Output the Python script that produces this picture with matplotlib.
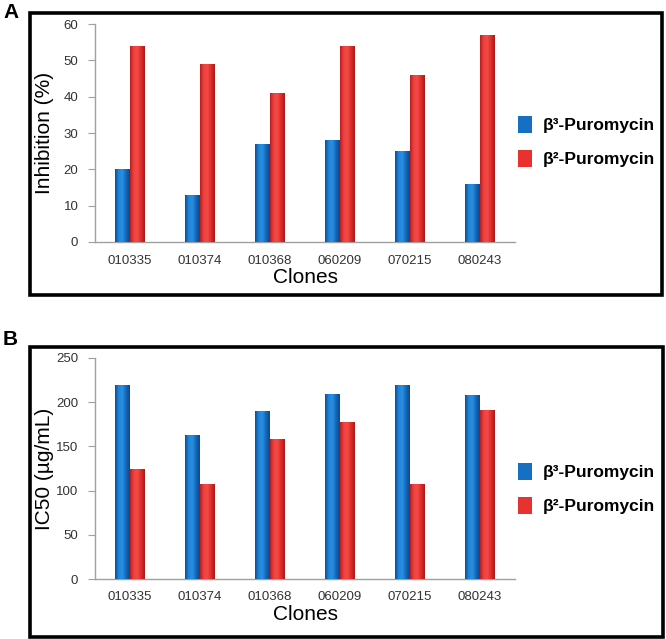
import matplotlib
matplotlib.use('Agg')
import matplotlib.pyplot as plt
from matplotlib.patches import Rectangle
from matplotlib.colors import LinearSegmentedColormap
import numpy as np

plt.rcParams['font.family'] = ['Liberation Sans', 'DejaVu Sans']

clones = ['010335', '010374', '010368', '060209', '070215', '080243']
inhib_b3 = [20, 13, 27, 28, 25, 16]
inhib_b2 = [54, 49, 41, 54, 46, 57]
ic50_b3 = [219, 163, 190, 209, 219, 208]
ic50_b2 = [125, 108, 158, 178, 107, 191]
series_names = ['β³-Puromycin', 'β²-Puromycin']

BLUE = '#1570c4'; RED = '#e8322f'; AXC = '#a0a0a0'; TXT = '#333333'
blue_cm = LinearSegmentedColormap.from_list('b', ['#0b4f94', '#1f86dc', '#2a8fe0', '#1466b8', '#0a4a8c'])
red_cm = LinearSegmentedColormap.from_list('r', ['#b81e1e', '#f04240', '#f24a47', '#dc2c2a', '#a81a1a'])

fig = plt.figure(figsize=(6.66, 6.39), dpi=100)
fig.patch.set_facecolor('white')

# outer frames and panel letters
for (x0, y0, w, h) in [(30/666, 1-295/639, 632/666, 282/639), (30/666, 1-637/639, 633/666, 290/639)]:
    fig.patches.append(Rectangle((x0, y0), w, h, transform=fig.transFigure, fill=False, ec='black', lw=2.6))
fig.text(3/666, 1-3/639, 'A', fontsize=15, fontweight='bold', va='top', ha='left')
fig.text(3/666, 1-330/639, 'B', fontsize=15, fontweight='bold', va='top', ha='left')


def shade(ax, bars, cm):
    grad = np.linspace(0, 1, 64).reshape(1, -1)
    for b in bars:
        x, y = b.get_x(), b.get_y()
        w, h = b.get_width(), b.get_height()
        im = ax.imshow(grad, cmap=cm, aspect='auto', extent=(x, x + w, y, y + h), zorder=3)
        im.set_clip_path(b)
        b.set_facecolor('none')


def panel(rect, b3, b2, ymax, step, ylabel, leg_y):
    ax = fig.add_axes(rect)
    x = np.arange(len(clones))
    w = 0.21
    bb = ax.bar(x - w/2, b3, w, color=BLUE, ec='none', zorder=2)
    br = ax.bar(x + w/2, b2, w, color=RED, ec='none', zorder=2)
    shade(ax, bb, blue_cm)
    shade(ax, br, red_cm)
    ax.set_xlim(-0.5, len(clones) - 0.5)
    ax.set_ylim(0, ymax)
    ax.set_yticks(np.arange(0, ymax + 1, step))
    ax.set_xticks(x)
    ax.set_xticklabels(clones)
    for s in ['top', 'right']:
        ax.spines[s].set_visible(False)
    for s in ['left', 'bottom']:
        ax.spines[s].set_color(AXC)
        ax.spines[s].set_linewidth(1.0)
    ax.tick_params(axis='y', colors=AXC, labelcolor=TXT, labelsize=9.5, length=5, pad=7)
    ax.tick_params(axis='x', length=0, labelcolor=TXT, labelsize=9.5, pad=9)
    ax.set_ylabel(ylabel, fontsize=15, color='black')
    ax.yaxis.set_label_coords(-0.097, 0.5)
    ax.set_xlabel('Clones', fontsize=15, color='black', labelpad=1)
    h1 = Rectangle((0, 0), 1, 1, fc=BLUE, ec='none')
    h2 = Rectangle((0, 0), 1, 1, fc=RED, ec='none')
    ax.legend([h1, h2], series_names, loc='center left', bbox_to_anchor=(1.0, leg_y),
              frameon=False, prop={'size': 12.5, 'weight': 'bold'}, handlelength=0.85,
              handleheight=1.15, handletextpad=0.6, labelspacing=0.95,
              borderaxespad=0.0, borderpad=0.15)
    return ax


panel([95/666, 1-242/639, 420/666, 218/639], inhib_b3, inhib_b2, 60, 10, 'Inhibition (%)', 0.46)
panel([95/666, 1-579/639, 420/666, 221/639], ic50_b3, ic50_b2, 250, 50, 'IC50 (µg/mL)', 0.41)

plt.savefig('out.png', dpi=100, facecolor='white')
